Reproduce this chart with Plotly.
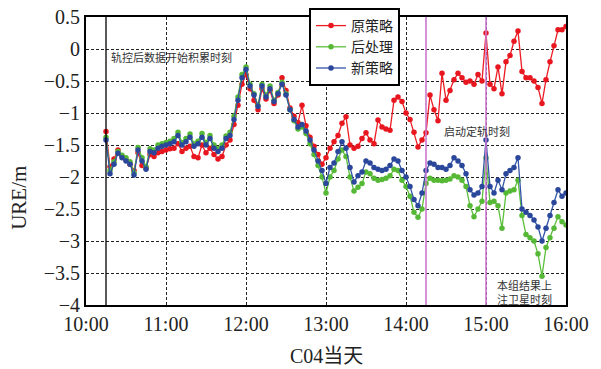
import plotly.graph_objects as go

# time axis: minutes after 10:00, sampled every 3 minutes starting at 10:15
t_start = 15
t_step = 3

red = [-1.29, -1.84, -1.72, -1.58, -1.68, -1.73, -1.80, -1.90, -1.62, -1.82,
       -1.86, -1.65, -1.68, -1.62, -1.60, -1.58, -1.56, -1.55, -1.48, -1.60,
       -1.55, -1.52, -1.68, -1.70, -1.50, -1.62, -1.55, -1.65, -1.72, -1.68,
       -1.50, -1.42, -1.18, -0.88, -0.55, -0.40, -0.62, -0.80, -0.95, -0.62,
       -0.78, -0.65, -0.85, -0.72, -0.45, -0.65, -0.92, -1.05, -1.15, -0.88,
       -1.20, -1.38, -1.52, -1.65, -1.80, -1.70, -1.55, -1.45, -1.35, -1.16,
       -1.06, -1.50, -1.55, -1.52, -1.40, -1.31, -1.42, -1.48, -1.11, -1.22,
       -1.25, -1.27, -0.80, -0.75, -0.82, -1.00, -1.10, -1.30, -1.53, -1.42,
       -1.31, -0.72, -0.95, -1.12, -0.38, -0.80, -0.65, -0.48, -0.38, -0.45,
       -0.52, -0.50, -0.55, -0.40, -0.50, 0.25, -0.55, -0.62, -0.28, -0.70,
       -0.20, -0.10, 0.12, 0.28, -0.35, -0.45, -0.45, -0.50, -0.60, -0.85,
       -0.48, -0.20, 0.05, 0.30, 0.30, 0.35]

green = [-1.38, -1.90, -1.76, -1.60, -1.66, -1.70, -1.76, -1.93, -1.54, -1.70,
         -1.84, -1.56, -1.58, -1.50, -1.48, -1.46, -1.44, -1.40, -1.30, -1.46,
         -1.40, -1.33, -1.48, -1.44, -1.32, -1.46, -1.35, -1.50, -1.56, -1.50,
         -1.36, -1.30, -1.05, -0.75, -0.40, -0.28, -0.55, -0.70, -0.88, -0.55,
         -0.72, -0.58, -0.80, -0.68, -0.52, -0.70, -0.95, -1.12, -1.25, -1.22,
         -1.32, -1.48, -1.65, -1.82, -2.00, -2.25, -2.00, -1.90, -1.72, -1.58,
         -1.68, -2.00, -2.22, -2.16, -2.10, -1.92, -1.95, -2.02, -2.05, -2.04,
         -2.02, -1.98, -1.88, -1.90, -2.05, -2.15, -2.30, -2.55, -2.63, -2.50,
         -2.10, -2.02, -2.05, -2.05, -2.06, -2.05, -2.03, -1.98, -2.00, -2.05,
         -2.15, -2.45, -2.62, -2.50, -2.38, -1.70, -2.40, -2.38, -2.45, -2.80,
         -2.25, -2.22, -2.20, -2.05, -2.60, -2.90, -2.95, -3.00, -3.20, -3.55,
         -3.10, -2.95, -2.80, -2.62, -2.70, -2.75]

blue = [-1.42, -1.95, -1.80, -1.63, -1.70, -1.75, -1.80, -1.97, -1.58, -1.75,
        -1.88, -1.60, -1.62, -1.55, -1.52, -1.50, -1.48, -1.45, -1.35, -1.50,
        -1.45, -1.38, -1.52, -1.48, -1.38, -1.50, -1.40, -1.55, -1.60, -1.55,
        -1.40, -1.35, -1.10, -0.80, -0.45, -0.32, -0.58, -0.72, -0.90, -0.58,
        -0.75, -0.62, -0.82, -0.70, -0.55, -0.72, -0.95, -1.10, -1.22, -1.18,
        -1.28, -1.42, -1.58, -1.75, -1.90, -2.10, -1.85, -1.78, -1.60, -1.45,
        -1.55, -1.85, -2.08, -1.98, -1.92, -1.75, -1.78, -1.85, -1.88, -1.90,
        -1.88, -1.82, -1.72, -1.75, -1.90, -2.00, -2.15, -2.35, -2.45, -2.25,
        -1.90, -1.78, -1.80, -1.85, -1.85, -1.88, -1.82, -1.70, -1.75, -1.82,
        -1.95, -2.20, -2.28, -2.25, -2.15, -1.42, -2.15, -2.25, -2.05, -2.20,
        -1.95, -1.90, -1.85, -1.70, -2.50, -2.55, -2.60, -2.67, -2.78, -3.00,
        -2.80, -2.60, -2.40, -2.20, -2.30, -2.25]

series_names = ["原策略", "后处理", "新策略"]
x_tick_vals = [0, 60, 120, 180, 240, 300, 360]
x_tick_text = ["10:00", "11:00", "12:00", "13:00", "14:00", "15:00", "16:00"]
y_tick_vals = [0.5, 0, -0.5, -1, -1.5, -2, -2.5, -3, -3.5, -4]
event_accum = 15      # 10:15
event_orbit = 255     # 14:15
event_upload = 300    # 15:00

times = [t_start + i * t_step for i in range(len(red))]

fig = go.Figure()
styles = [("#ec1c24", "#e8161e"), ("#5cbf3c", "#56b935"), ("#3355a8", "#2a479c")]
for name, vals, (lc, mc) in zip(series_names, [red, green, blue], styles):
    fig.add_trace(go.Scatter(
        x=times, y=vals, name=name, mode="lines+markers",
        line=dict(color=lc, width=1.3),
        marker=dict(color=mc, size=5.5),
    ))

serif = "'Liberation Serif', 'Times New Roman', serif"
cjk = "'Noto Sans CJK SC'"

for xv, col, w in [(event_accum, "black", 1.3), (event_orbit, "#cc77cc", 1.6), (event_upload, "#cc77cc", 1.6)]:
    fig.add_shape(type="line", xref="x", yref="y domain", x0=xv, x1=xv, y0=0, y1=1,
                  line=dict(color=col, width=w))

fig.add_annotation(x=17, y=-0.12, xref="x", yref="y", text="轨控后数据开始积累时刻",
                   showarrow=False, xanchor="left", font=dict(family=cjk, size=11, color="#333"))
fig.add_annotation(x=267, y=-1.28, xref="x", yref="y", text="启动定轨时刻",
                   showarrow=False, xanchor="left", font=dict(family=cjk, size=11, color="#333"))
fig.add_annotation(x=307, y=-3.8, xref="x", yref="y", text="本组结果上<br>注卫星时刻",
                   showarrow=False, xanchor="left", align="left",
                   font=dict(family=cjk, size=11, color="#333"))

# axis titles placed in paper coordinates (plot area: 86..566 x 17..305 px)
fig.add_annotation(x=-0.14, y=(305 - 198) / 288, xref="paper", yref="paper", text="URE/m",
                   textangle=-90, showarrow=False, xanchor="center", yanchor="middle",
                   font=dict(family=serif, size=21, color="#222"))
fig.add_annotation(x=0.5, y=(305 - 356) / 288, xref="paper", yref="paper", text="C04当天",
                   showarrow=False, xanchor="center", yanchor="middle",
                   font=dict(family=serif + ", " + cjk, size=20, color="#222"))

fig.update_layout(
    width=601, height=369,
    margin=dict(l=86, r=35, t=17, b=64, autoexpand=False),
    paper_bgcolor="white", plot_bgcolor="white",
    showlegend=True,
    legend=dict(x=(309 - 86) / 480, y=1 + (17 - 8) / 288, xanchor="left", yanchor="top",
                bgcolor="white", bordercolor="black", borderwidth=2,
                font=dict(family=cjk, size=14, color="#222"),
                tracegroupgap=0, itemwidth=30),
    xaxis=dict(range=[0, 360], tickvals=x_tick_vals, ticktext=x_tick_text,
               showgrid=True, gridcolor="#222", griddash="3px,2px", gridwidth=1,
               showline=True, linecolor="black", linewidth=2, mirror=True,
               ticks="", zeroline=False, ticklabeloverflow="allow",
               tickfont=dict(family=serif, size=20, color="#222")),
    yaxis=dict(range=[-4, 0.5], tickvals=y_tick_vals,
               showgrid=True, gridcolor="#222", griddash="3px,2px", gridwidth=1,
               showline=True, linecolor="black", linewidth=2, mirror=True,
               ticks="", zeroline=False, ticklabeloverflow="allow",
               tickfont=dict(family=serif, size=20, color="#222")),
)

# remove the default page margin so the figure sits at the window's top-left corner
fig.write_html("out.html", config={"displayModeBar": False},
               post_script="document.body.style.margin='0';")
